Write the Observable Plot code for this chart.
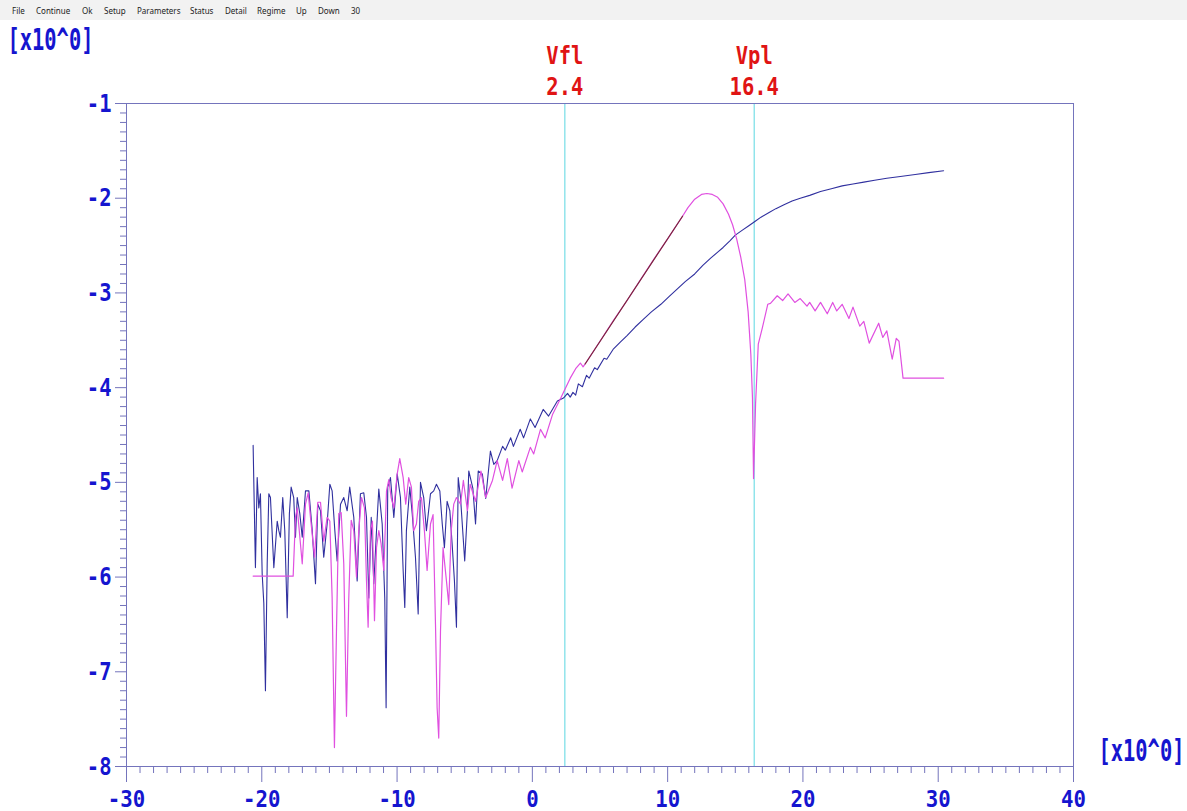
<!DOCTYPE html>
<html>
<head>
<meta charset="utf-8">
<script src="https://cdn.jsdelivr.net/npm/d3@7"></script>
<script src="https://cdn.jsdelivr.net/npm/@observablehq/plot@0.6"></script>
<style>
  html, body { margin: 0; padding: 0; background: #ffffff; }
  #menu { position: relative; height: 20px; background: #f2f2f2; font-family: "Noto Sans", sans-serif; font-size: 8px; color: #222; }
  #menu span { position: absolute; top: 5px; }
  #chart { position: relative; }
</style>
</head>
<body>
<div id="menu"></div>
<div id="chart"></div>
<script>
// ---- data ----
const menuItems = ["File", "Continue", "Ok", "Setup", "Parameters", "Status", "Detail", "Regime", "Up", "Down", "30"];
const menuPos = [12, 36, 82, 104, 137, 190, 225, 257, 296, 318, 351];

const xTicks = [-30, -20, -10, 0, 10, 20, 30, 40];
const yTicks = [-1, -2, -3, -4, -5, -6, -7, -8];
const unitLabel = "[x10^0]";

const markerNames = ["Vfl", "Vpl"];
const markerValues = [2.4, 16.4];

// blue curve (probe signal)
const blueCurve = [
  [-20.64,-4.61],[-20.47,-5.90],[-20.34,-4.95],[-20.22,-5.27],[-20.10,-5.12],[-19.97,-5.97],[-19.85,-6.28],[-19.73,-7.20],
  [-19.60,-5.86],[-19.48,-5.12],[-19.36,-5.16],[-19.11,-5.90],[-18.86,-5.41],[-18.74,-5.51],[-18.62,-5.58],[-18.45,-5.16],
  [-18.30,-5.51],[-18.12,-6.43],[-17.96,-5.33],[-17.83,-5.05],[-17.64,-5.16],[-17.51,-5.58],[-17.38,-5.16],[-17.19,-5.33],
  [-17.01,-5.58],[-16.77,-5.09],[-16.52,-5.09],[-16.27,-5.51],[-16.03,-6.07],[-15.86,-5.23],[-15.66,-5.30],[-15.42,-5.79],
  [-15.17,-5.44],[-14.97,-5.02],[-14.80,-5.09],[-14.60,-5.51],[-14.43,-5.83],[-14.18,-5.23],[-13.94,-5.16],[-13.69,-5.30],
  [-13.50,-5.05],[-13.20,-5.37],[-12.95,-6.04],[-12.71,-5.12],[-12.46,-5.11],[-12.26,-5.37],[-12.09,-6.22],[-11.91,-5.37],
  [-11.72,-6.07],[-11.52,-5.51],[-11.35,-5.07],[-11.10,-5.44],[-10.91,-6.22],[-10.81,-7.38],[-10.69,-5.05],[-10.49,-4.95],
  [-10.24,-5.37],[-9.99,-4.91],[-9.75,-5.16],[-9.55,-5.93],[-9.43,-6.32],[-9.31,-5.51],[-9.06,-5.05],[-8.88,-5.33],
  [-8.64,-5.79],[-8.44,-6.39],[-8.27,-5.00],[-8.03,-5.16],[-7.83,-5.51],[-7.53,-5.12],[-7.29,-5.09],[-7.09,-5.02],
  [-6.84,-5.09],[-6.66,-5.44],[-6.50,-5.69],[-6.30,-5.20],[-6.10,-5.30],[-5.93,-5.65],[-5.76,-6.04],[-5.61,-6.53],
  [-5.48,-4.95],[-5.31,-5.16],[-5.00,-5.83],[-4.80,-5.30],[-4.70,-4.88],[-4.40,-5.06],[-4.20,-5.44],[-4.00,-4.88],
  [-3.70,-4.91],[-3.45,-5.17],[-3.10,-4.67],[-2.85,-4.81],[-2.60,-4.77],[-2.20,-4.62],[-2.00,-4.66],[-1.60,-4.53],
  [-1.40,-4.62],[-0.90,-4.44],[-0.65,-4.53],[-0.15,-4.33],[0.20,-4.42],[0.80,-4.23],[1.20,-4.30],[1.85,-4.14],
  [2.30,-4.11],[2.60,-4.06],[2.80,-4.10],[3.00,-4.05],[3.20,-4.08],[3.40,-3.96],[3.70,-3.99],[4.00,-3.87],
  [4.20,-3.90],[4.60,-3.79],[4.80,-3.81],[5.30,-3.69],[5.50,-3.70],[6.00,-3.59],[6.50,-3.52],[7.00,-3.45],
  [7.60,-3.36],[8.20,-3.28],[8.80,-3.20],[9.50,-3.12],[10.10,-3.04],[10.70,-2.96],[11.30,-2.88],[12.00,-2.80],
  [12.60,-2.71],[13.20,-2.63],[13.70,-2.57],[14.10,-2.52],[14.60,-2.45],[15.00,-2.39],[15.50,-2.34],[16.00,-2.29],
  [16.50,-2.24],[16.90,-2.20],[17.50,-2.15],[18.00,-2.11],[18.60,-2.07],[19.20,-2.03],[19.80,-2.00],[20.50,-1.97],
  [21.30,-1.93],[22.10,-1.90],[22.90,-1.87],[23.70,-1.85],[24.50,-1.83],[25.30,-1.81],[26.20,-1.79],[27.20,-1.77],
  [28.30,-1.75],[29.30,-1.73],[30.40,-1.71]
];

// magenta curve (derivative)
const magentaCurve = [
  [-20.64,-5.99],[-17.68,-5.99],[-17.51,-5.37],[-17.38,-5.27],[-17.01,-5.86],[-16.77,-5.23],[-16.57,-5.11],[-16.40,-5.37],
  [-16.10,-5.79],[-15.86,-5.21],[-15.66,-5.21],[-15.42,-5.62],[-15.17,-5.37],[-14.97,-5.41],[-14.80,-6.22],[-14.63,-7.80],
  [-14.48,-6.57],[-14.31,-5.33],[-14.13,-5.32],[-13.94,-5.86],[-13.74,-7.47],[-13.57,-6.22],[-13.39,-5.40],[-13.20,-5.51],
  [-13.00,-6.00],[-12.83,-5.51],[-12.63,-5.16],[-12.41,-5.27],[-12.26,-6.04],[-12.14,-6.53],[-11.97,-5.51],[-11.82,-5.41],
  [-11.67,-6.46],[-11.52,-5.69],[-11.35,-5.51],[-11.18,-5.65],[-10.98,-5.93],[-10.78,-5.09],[-10.61,-4.97],[-10.44,-5.16],
  [-10.24,-5.27],[-9.99,-4.91],[-9.80,-4.75],[-9.55,-4.95],[-9.36,-5.23],[-9.14,-4.95],[-8.94,-5.05],[-8.77,-5.51],
  [-8.57,-5.44],[-8.40,-5.20],[-8.20,-5.16],[-7.98,-5.51],[-7.78,-5.93],[-7.53,-5.44],[-7.34,-5.34],[-7.16,-6.50],
  [-7.04,-7.38],[-6.92,-7.70],[-6.79,-6.57],[-6.60,-5.69],[-6.35,-6.04],[-6.18,-6.29],[-6.00,-5.51],[-5.81,-5.23],
  [-5.61,-5.16],[-5.31,-5.23],[-5.10,-4.98],[-4.80,-5.30],[-4.60,-5.02],[-4.20,-5.20],[-3.80,-4.88],[-3.45,-5.16],
  [-2.95,-4.98],[-2.60,-4.77],[-2.20,-4.98],[-1.85,-4.75],[-1.50,-5.06],[-1.00,-4.77],[-0.75,-4.89],[-0.15,-4.63],
  [0.10,-4.70],[0.60,-4.44],[0.95,-4.53],[1.50,-4.28],[2.10,-4.11],[2.80,-3.90],[3.20,-3.80],[3.55,-3.74],
  [3.75,-3.78],[3.90,-3.75],[5.00,-3.51],[6.00,-3.29],[7.00,-3.08],[8.00,-2.86],[9.00,-2.64],[10.00,-2.43],
  [11.10,-2.19],[11.50,-2.10],[12.00,-2.01],[12.50,-1.96],[12.90,-1.95],[13.30,-1.96],[13.70,-1.99],[14.10,-2.06],
  [14.50,-2.17],[14.80,-2.28],[15.10,-2.43],[15.40,-2.62],[15.70,-2.86],[15.95,-3.20],[16.15,-3.65],[16.27,-4.11],
  [16.35,-4.96],[16.50,-4.17],[16.70,-3.54],[17.00,-3.37],[17.40,-3.12],[17.60,-3.11],[18.10,-3.03],[18.50,-3.08],
  [18.90,-3.01],[19.40,-3.10],[19.80,-3.06],[20.30,-3.14],[20.50,-3.10],[20.90,-3.19],[21.30,-3.10],[21.80,-3.22],
  [22.20,-3.10],[22.50,-3.19],[22.90,-3.12],[23.40,-3.27],[23.70,-3.15],[24.20,-3.35],[24.50,-3.30],[24.90,-3.53],
  [25.60,-3.32],[25.90,-3.47],[26.20,-3.40],[26.60,-3.70],[26.90,-3.48],[27.10,-3.51],[27.40,-3.90],[30.40,-3.90]
];

// straight fit segment
const fitLine = [[3.9,-3.75],[11.1,-2.19]];

// ---- styles ----
const axisColor = "#7474bc";
const labelBlue = "#1515cf";
const labelRed = "#e01414";
const blueLine = "#30309f";
const magentaLine = "#e050e0";
const fitColor = "#7a2a3a";
const markerColor = "#80e0e8";
const mono = "DejaVu Sans Mono";

// menu bar
const menu = document.getElementById("menu");
menuItems.forEach((t, i) => {
  const s = document.createElement("span");
  s.textContent = t;
  s.style.left = menuPos[i] + "px";
  menu.appendChild(s);
});

const markers = markerNames.map((n, i) => ({name: n, v: markerValues[i]}));
const blue = blueCurve.map(([x, y]) => ({x, y}));
const mag = magentaCurve.map(([x, y]) => ({x, y}));
const fit = fitLine.map(([x, y]) => ({x, y}));

const minorX = d3.range(-30, 41, 1).filter(d => d % 10 !== 0);
const minorY = d3.range(-80, -9, 1).filter(d => d % 10 !== 0).map(d => d / 10);

const plot = Plot.plot({
  width: 1187,
  height: 791,
  marginTop: 83,
  marginBottom: 45,
  marginLeft: 126,
  marginRight: 114,
  x: {domain: [-30, 40], label: null},
  y: {domain: [-8, -1], label: null},
  style: {background: "white", fontFamily: mono, fontWeight: "bold", overflow: "visible"},
  marks: [
    Plot.ruleX(markers, {x: "v", stroke: markerColor, strokeWidth: 1.3}),
    Plot.line(blue, {x: "x", y: "y", stroke: blueLine, strokeWidth: 1.1}),
    Plot.line(mag, {x: "x", y: "y", stroke: magentaLine, strokeWidth: 1.2}),
    Plot.line(fit, {x: "x", y: "y", stroke: fitColor, strokeWidth: 1.2}),
    Plot.frame({stroke: axisColor, strokeWidth: 1}),
    Plot.axisX(minorX, {tickSize: 7, stroke: axisColor, fill: "none", label: null}),
    Plot.axisY(minorY, {tickSize: 6, stroke: axisColor, fill: "none", label: null}),
    Plot.axisX(xTicks, {tickSize: 16, tickPadding: 8, stroke: axisColor, fill: labelBlue, label: null,
      fontSize: 23, fontWeight: "bold", fontFamily: mono, tickFormat: d => String(d)}),
    Plot.axisY(yTicks, {tickSize: 11, tickPadding: 4, stroke: axisColor, fill: labelBlue, label: null,
      fontSize: 25, fontWeight: "bold", fontFamily: mono, tickFormat: d => String(d)}),
    Plot.text(markers, {x: "v", text: "name", frameAnchor: "top", dy: -48, lineAnchor: "middle",
      fill: labelRed, fontSize: 25, fontWeight: "bold", fontFamily: mono}),
    Plot.text(markers, {x: "v", text: d => String(d.v), frameAnchor: "top", dy: -17, lineAnchor: "middle",
      fill: labelRed, fontSize: 25, fontWeight: "bold", fontFamily: mono}),
    Plot.text([unitLabel], {text: d => d, frameAnchor: "top-left", dx: -119, dy: -63, textAnchor: "start",
      lineAnchor: "middle", fill: labelBlue, fontSize: 30, fontWeight: "bold", fontFamily: mono}),
    Plot.text([unitLabel], {text: d => d, frameAnchor: "bottom-right", dx: 25, dy: -15, textAnchor: "start",
      lineAnchor: "middle", fill: labelBlue, fontSize: 30, fontWeight: "bold", fontFamily: mono})
  ]
});

// condense the bitmap-like font horizontally
const xTickText = xTicks.map(String);
plot.querySelectorAll("text").forEach(el => {
  const txt = el.textContent;
  const sx = txt === unitLabel ? 0.68 : xTickText.includes(txt) ? 0.9 : 0.82;
  const t = el.getAttribute("transform");
  if (t) {
    el.setAttribute("transform", t + ` scale(${sx},1)`);
  } else {
    const x = +el.getAttribute("x") || 0;
    const y = +el.getAttribute("y") || 0;
    el.removeAttribute("x"); el.removeAttribute("y");
    el.setAttribute("transform", `translate(${x},${y}) scale(${sx},1)`);
  }
});

document.getElementById("chart").appendChild(plot);
</script>
</body>
</html>
